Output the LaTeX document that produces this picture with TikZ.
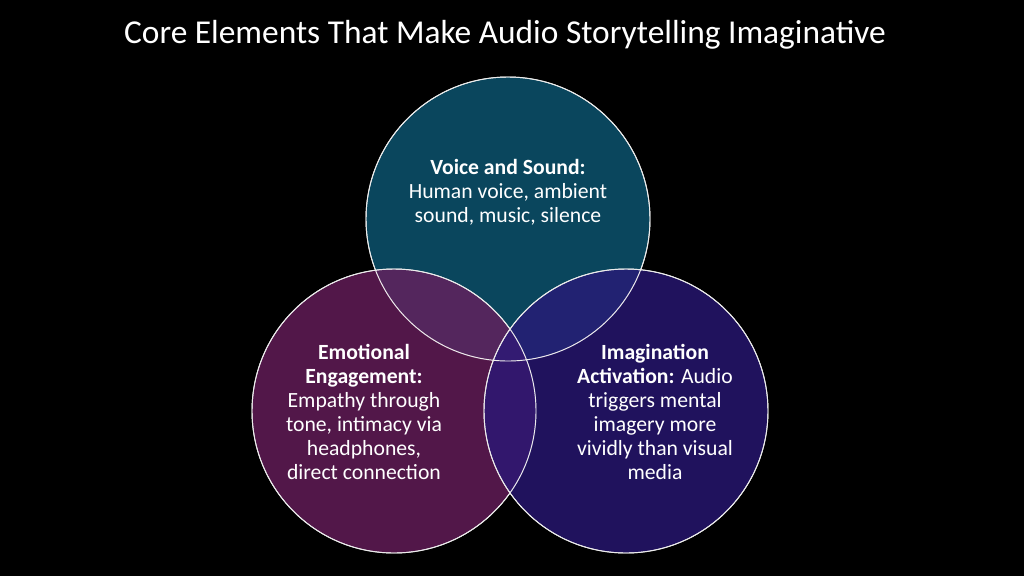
\documentclass[tikz,border=0pt]{standalone}
\usepackage{fontspec}
\setmainfont{Carlito}
\usetikzlibrary{positioning}
\definecolor{voicecol}{HTML}{0E5A78}
\definecolor{emocol}{HTML}{6A1E5E}
\definecolor{imagcol}{HTML}{2A1878}
\tikzset{
	ring/.style={draw=white!85!gray,line width=0.8pt,fill opacity=0.78},
	lbl/.style={text=white,align=center,font=\fontsize{18.5}{20.5}\selectfont}
}
\begin{document}
\begin{tikzpicture}
	[	x=0.03cm,				% 1 px
		y=-0.03cm	]
	\fill[black] (0,0) rectangle (1024,576);		% background
	\useasboundingbox (0,0) rectangle (1024,576);
	\node[text=white,font=\fontsize{28.5}{32}\selectfont] (title) at (505,35) {Core Elements That Make Audio Storytelling Imaginative};
	\fill[ring,fill=voicecol] (508,219) circle (142);		% top
	\fill[ring,fill=emocol] (394,411) circle (142);		% left
	\fill[ring,fill=imagcol] (626,411) circle (142);		% right
	\draw[white!85!gray,line width=0.8pt] (508,219) circle (142) (394,411) circle (142) (626,411) circle (142);
	\node[lbl] (voice) at (508,192) {\textbf{Voice and Sound:}\\Human voice, ambient\\sound, music, silence};
	\node[lbl] (emo) at (364,412) {\textbf{Emotional}\\\textbf{Engagement:}\\Empathy through\\tone, intimacy via\\headphones,\\direct connection};
	\node[lbl] (imag) at (655,412) {\textbf{Imagination}\\\textbf{Activation:} Audio\\triggers mental\\imagery more\\vividly than visual\\media};
\end{tikzpicture}
\end{document}
